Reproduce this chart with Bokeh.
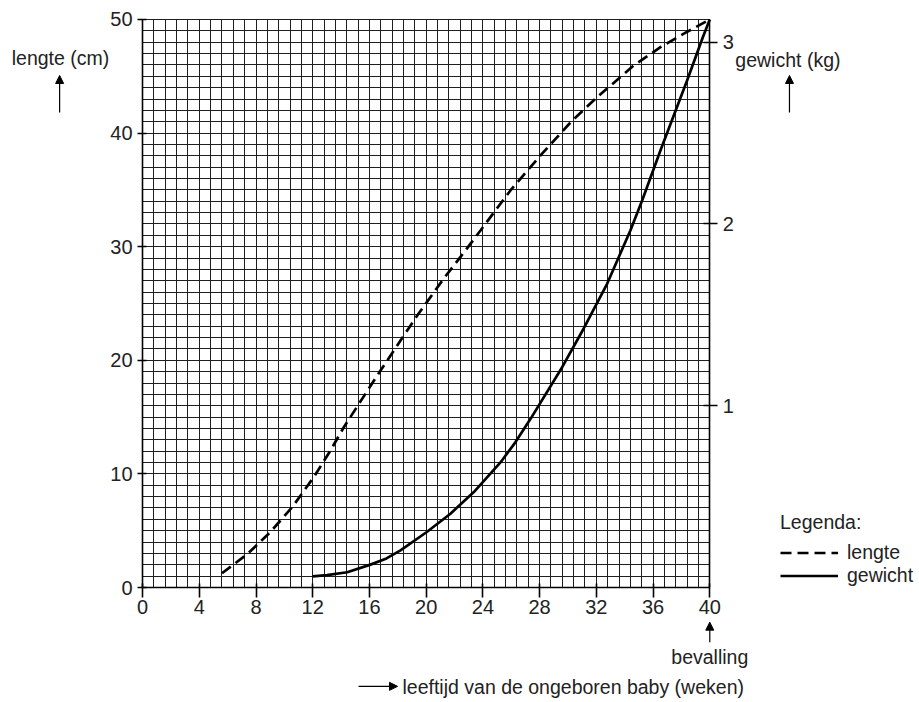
from bokeh.plotting import figure
from bokeh.models import (Range1d, LinearAxis, FixedTicker, Label, Arrow, NormalHead,
                          Grid, Legend, LegendItem)
from bokeh.embed import file_html
from bokeh.resources import INLINE

# ---- data ----
lengte_weken = [5.6, 7.4, 9.0, 10.55, 12.07, 13.25, 14.19, 16.78, 19.37, 21.24,
                22.77, 23.83, 25.94, 28.06, 30.3, 32.06, 34.64, 36.52, 38.17, 40.0]
lengte_cm = [1.26, 2.96, 4.87, 7.07, 9.71, 12.06, 14.11, 19.1, 23.94, 27.2,
             29.67, 31.43, 34.95, 38.03, 41.1, 43.16, 45.95, 47.56, 48.75, 50.0]

gewicht_weken = [12.0, 13.0, 14.43, 16.07, 17.2, 18.19, 20.02, 21.71, 23.36, 25.24, 26.3,
                 27.36, 29.59, 31.11, 32.76, 34.4, 35.23, 36.52, 38.4, 39.53, 40.0]
gewicht_kg = [0.061, 0.068, 0.084, 0.126, 0.160, 0.204, 0.304, 0.406, 0.525, 0.688, 0.800,
              0.928, 1.212, 1.425, 1.671, 1.964, 2.129, 2.404, 2.789, 3.031, 3.125]

x_ticks = [0, 4, 8, 12, 16, 20, 24, 28, 32, 36, 40]
y_ticks = [0, 10, 20, 30, 40, 50]
kg_ticks = [1, 2, 3]
x_grid = [round(0.8 * i, 2) for i in range(51)]   # 0.8 week per cell
y_grid = list(range(51))                          # 1 cm per cell

FONT = "Liberation Sans"
TXT = "#222222"
KG_PER_CM = 1 / 16.0

# frame covers the whole canvas; axes sit at fixed data locations
X0, X1 = -10.02, 54.79
Y0, Y1 = -10.12, 51.67
p = figure(width=919, height=702, output_backend="svg", toolbar_location=None,
           x_range=Range1d(X0, X1), y_range=Range1d(Y0, Y1),
           x_axis_location=None, y_axis_location=None,
           min_border=0, min_border_left=0, min_border_right=0,
           min_border_top=0, min_border_bottom=0,
           background_fill_color="white", border_fill_color="white",
           outline_line_color=None)
p.extra_y_ranges = {"kg": Range1d(Y0 * KG_PER_CM, Y1 * KG_PER_CM)}
p.center = []

gx = Grid(dimension=0, ticker=FixedTicker(ticks=x_grid), bounds=(0, 40),
          cross_bounds=(0, 50), grid_line_color="#1e1e1e", grid_line_width=1)
gy = Grid(dimension=1, ticker=FixedTicker(ticks=y_grid), bounds=(0, 50),
          cross_bounds=(0, 40), grid_line_color="#1e1e1e", grid_line_width=1)
p.add_layout(gx, "center")
p.add_layout(gy, "center")

def style_axis(ax, tin, tout, stand):
    ax.axis_line_color = "black"
    ax.axis_line_width = 1.6
    ax.major_tick_line_color = "black"
    ax.major_tick_line_width = 1.6
    ax.major_tick_in = tin
    ax.major_tick_out = tout
    ax.minor_tick_line_color = None
    ax.major_label_standoff = stand
    ax.major_label_text_font = FONT
    ax.major_label_text_font_size = "20px"
    ax.major_label_text_color = TXT

xax = LinearAxis(ticker=FixedTicker(ticks=x_ticks), fixed_location=0, bounds=(0, 40))
style_axis(xax, 4, 10, 2)
p.add_layout(xax, "below")

yax = LinearAxis(ticker=FixedTicker(ticks=y_ticks), fixed_location=0, bounds=(0, 50))
style_axis(yax, 4, 5, 5)
p.add_layout(yax, "left")

rax = LinearAxis(y_range_name="kg", ticker=FixedTicker(ticks=kg_ticks),
                 fixed_location=40, bounds=(0, 50 * KG_PER_CM))
style_axis(rax, 6, 8, 5)
p.add_layout(rax, "right")

# curves
r_len = p.line(lengte_weken, lengte_cm, line_color="black", line_width=2.7, line_dash="11 6")
r_gew = p.line(gewicht_weken, gewicht_kg, y_range_name="kg", line_color="black", line_width=2.7)

# texts
def lab(x, y, t, align="left"):
    p.add_layout(Label(x=x, y=y, text=t, text_font=FONT, text_font_size="19.5px",
                       text_color=TXT, text_align=align, text_baseline="alphabetic"))

def arr(x0, y0, x1, y1):
    p.add_layout(Arrow(x_start=x0, y_start=y0, x_end=x1, y_end=y1,
                       end=NormalHead(size=8, fill_color="black", line_color="black", line_width=1),
                       start=None, line_color="black", line_width=1.2))

lab(-5.79, 46.65, "lengte (cm)", "center")
arr(-5.85, 41.81, -5.85, 45.07)
lab(45.51, 46.45, "gewicht (kg)", "center")
arr(45.62, 41.81, 45.62, 45.07)
lab(40.0, -6.15, "bevalling", "center")
arr(40.0, -4.82, 40.0, -3.05)
lab(18.33, -8.75, "leeftijd van de ongeboren baby (weken)")
arr(15.23, -8.7, 17.98, -8.7)

legend = Legend(items=[LegendItem(label="lengte", renderers=[r_len]),
                       LegendItem(label="gewicht", renderers=[r_gew])],
                title="Legenda:", location=(780, 115), orientation="vertical",
                glyph_width=58, glyph_height=21, label_height=21, label_standoff=9,
                spacing=-6, padding=0, margin=0, title_standoff=7,
                border_line_color=None, background_fill_alpha=0,
                label_text_font=FONT, label_text_font_size="19.5px", label_text_color=TXT,
                title_text_font=FONT, title_text_font_size="19.5px", title_text_color=TXT,
                title_text_font_style="normal")
p.add_layout(legend, "center")

open("out.html", "w").write(file_html(p, INLINE))
